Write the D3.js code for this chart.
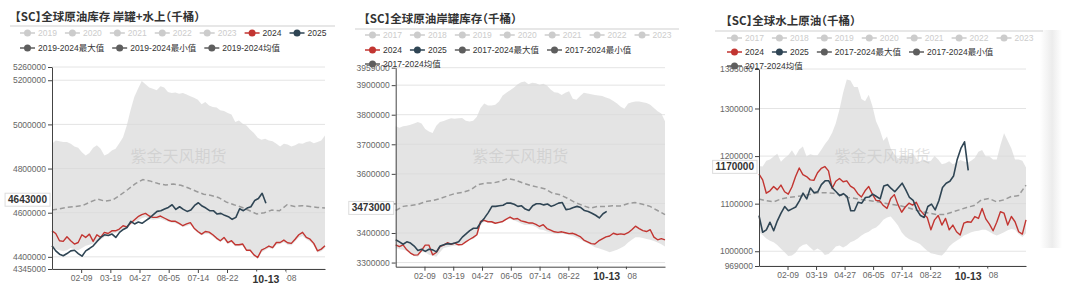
<!DOCTYPE html>
<html>
<head>
<meta charset="utf-8">
<script src="https://cdnjs.cloudflare.com/ajax/libs/d3/7.8.5/d3.min.js"></script>
<style>
body { margin: 0; background: #fff; }
svg { display: block; }
text { font-family: "Liberation Sans", "Noto Sans CJK SC", sans-serif; }
.title { font-family: "Noto Sans CJK SC", sans-serif; font-weight: bold; font-size: 11.5px; fill: #333; font-feature-settings: "halt"; }
</style>
</head>
<body>
<svg id="chart" width="1065" height="289"></svg>
<script>

// DATA (values every ~5 days over the year, 2025 up to 10-13)

var titles = ["【SC】全球原油库存 岸罐+水上（千桶）", "【SC】全球原油岸罐库存（千桶）", "【SC】全球水上原油（千桶）"];

var legend1 = [["2019","2020","2021","2022","2023","2024","2025"], ["2019-2024最大值","2019-2024最小值","2019-2024均值"]];
var legend23 = [["2017","2018","2019","2020","2021","2022","2023"], ["2024","2025","2017-2024最大值","2017-2024最小值"], ["2017-2024均值"]];

var xTickDates = ["02-09","03-19","04-27","06-05","07-14","08-22","09-30","11-08"];
var hiddenTickLabels = ["09-30"];
var pointerDate = "10-13";
var pointerValues = [4643000, 3473000, 1170000];
var watermark = "紫金天风期货";

var p1_domain = [4345000, 5260000];
var p1_yticks = [4345000, 4400000, 4600000, 4800000, 5000000, 5200000, 5260000];
var p1_max = [4912000,4927000,4924000,4920000,4920000,4912000,4900000,4894000,4874000,4859000,
  4870000,4894000,4905000,4890000,4859000,4867000,4882000,4890000,4915000,4942000,
  4995000,5064000,5124000,5162000,5197000,5182000,5167000,5162000,5155000,5173000,
  5167000,5147000,5142000,5145000,5139000,5142000,5136000,5127000,5121000,5112000,
  5091000,5101000,5086000,5079000,5076000,5064000,5061000,5052000,5045000,5011000,
  5018000,5003000,4995000,4976000,4961000,4939000,4930000,4935000,4927000,4924000,
  4912000,4900000,4912000,4909000,4900000,4905000,4915000,4912000,4920000,4924000,
  4915000,4920000,4927000,4950000];
var p1_min = [4440000,4435000,4430000,4425000,4430000,4440000,4435000,4430000,4440000,4450000,
  4455000,4460000,4470000,4478000,4490000,4495000,4505000,4508000,4515000,4528000,
  4530000,4545000,4558000,4565000,4575000,4580000,4572000,4568000,4570000,4573000,
  4566000,4560000,4555000,4552000,4545000,4535000,4540000,4545000,4525000,4508000,
  4498000,4505000,4503000,4492000,4478000,4468000,4478000,4458000,4465000,4448000,
  4448000,4450000,4425000,4425000,4404000,4390000,4420000,4430000,4440000,4435000,
  4455000,4458000,4466000,4455000,4452000,4470000,4488000,4495000,4480000,4470000,
  4452000,4420000,4425000,4440000];
var p1_avg = [4612000,4618000,4624000,4628000,4632000,4648000,4662000,4652000,4658000,4680000,
  4705000,4732000,4750000,4743000,4732000,4726000,4730000,4724000,4712000,4697000,
  4684000,4678000,4668000,4648000,4636000,4625000,4610000,4594000,4600000,4612000,
  4609000,4636000,4628000,4632000,4628000,4624000,4621000];
var p1_2024 = [4518000,4506000,4473000,4470000,4491000,4473000,4458000,4465000,4500000,4488000,
  4503000,4470000,4500000,4488000,4511000,4506000,4518000,4518000,4526000,4541000,
  4536000,4552000,4567000,4582000,4591000,4597000,4585000,4579000,4579000,4585000,
  4576000,4567000,4561000,4561000,4552000,4541000,4549000,4555000,4530000,4515000,
  4503000,4515000,4512000,4500000,4485000,4473000,4488000,4465000,4473000,4455000,
  4455000,4458000,4430000,4430000,4409000,4397000,4430000,4439000,4449000,4442000,
  4465000,4465000,4476000,4464000,4461000,4480000,4500000,4511000,4488000,4480000,
  4461000,4427000,4435000,4450000];
var p1_2025 = [4450000,4427000,4412000,4405000,4415000,4427000,4430000,4415000,4403000,4427000,
  4438000,4450000,4470000,4488000,4500000,4497000,4503000,4488000,4511000,4524000,
  4533000,4561000,4549000,4558000,4552000,4564000,4576000,4591000,4606000,4609000,
  4617000,4624000,4636000,4615000,4627000,4615000,4606000,4612000,4633000,4645000,
  4630000,4621000,4609000,4609000,4594000,4597000,4588000,4582000,4570000,4579000,
  4618000,4609000,4621000,4627000,4655000,4664000,4688000,4643000];

var p2_domain = [3286000, 3959000];
var p2_yticks = [3300000, 3400000, 3500000, 3600000, 3700000, 3800000, 3900000, 3959000];
var p2_max = [3761000,3756000,3761000,3763000,3766000,3770000,3775000,3770000,3752000,3743000,
  3738000,3763000,3775000,3779000,3784000,3788000,3786000,3788000,3789000,3780000,
  3777000,3780000,3793000,3823000,3838000,3831000,3831000,3834000,3845000,3865000,
  3874000,3883000,3891000,3902000,3910000,3912000,3903000,3908000,3906000,3901000,
  3905000,3899000,3885000,3876000,3874000,3867000,3874000,3879000,3854000,3851000,
  3863000,3874000,3872000,3869000,3867000,3865000,3863000,3858000,3854000,3846000,
  3838000,3827000,3820000,3838000,3842000,3845000,3845000,3842000,3840000,3834000,
  3823000,3812000,3804000,3778000];
var p2_min = [3349000,3345000,3343000,3340000,3330000,3322000,3320000,3335000,3335000,3326000,
  3323000,3320000,3335000,3349000,3352000,3355000,3357000,3358000,3360000,3368000,
  3377000,3380000,3390000,3426000,3439000,3436000,3434000,3430000,3432000,3436000,
  3445000,3447000,3443000,3438000,3432000,3427000,3428000,3425000,3420000,3412000,
  3410000,3405000,3402000,3398000,3396000,3399000,3397000,3393000,3390000,3384000,
  3378000,3371000,3365000,3359000,3352000,3348000,3344000,3340000,3335000,3339000,
  3343000,3349000,3356000,3368000,3377000,3386000,3386000,3383000,3380000,3377000,
  3373000,3368000,3362000,3354000];
var p2_avg = [3476000,3490000,3493000,3497000,3506000,3510000,3517000,3526000,3534000,3538000,
  3546000,3563000,3569000,3569000,3575000,3584000,3579000,3569000,3561000,3555000,
  3549000,3534000,3529000,3517000,3503000,3493000,3484000,3490000,3490000,3492000,
  3491000,3499000,3503000,3497000,3490000,3476000,3462000];
var p2_2024 = [3360000,3354000,3360000,3343000,3332000,3325000,3326000,3341000,3359000,3359000,
  3326000,3334000,3354000,3359000,3367000,3362000,3366000,3360000,3361000,3370000,
  3378000,3385000,3394000,3439000,3443000,3438000,3438000,3433000,3436000,3439000,
  3447000,3454000,3447000,3449000,3441000,3438000,3434000,3434000,3429000,3422000,
  3428000,3415000,3410000,3404000,3402000,3404000,3401000,3398000,3399000,3394000,
  3388000,3376000,3370000,3364000,3363000,3373000,3380000,3387000,3390000,3399000,
  3395000,3397000,3395000,3401000,3411000,3423000,3415000,3408000,3405000,3411000,
  3386000,3377000,3381000,3377000];
var p2_2025 = [3377000,3370000,3362000,3370000,3366000,3356000,3341000,3345000,3338000,3345000,
  3343000,3336000,3356000,3360000,3364000,3363000,3366000,3370000,3386000,3397000,
  3408000,3416000,3416000,3436000,3451000,3469000,3490000,3490000,3492000,3494000,
  3501000,3501000,3497000,3490000,3492000,3481000,3476000,3492000,3499000,3499000,
  3495000,3498000,3490000,3495000,3501000,3503000,3479000,3481000,3486000,3490000,
  3486000,3476000,3473000,3467000,3460000,3451000,3465000,3473000];

var p3_domain = [969000, 1383000];
var p3_yticks = [969000, 1000000, 1100000, 1200000, 1300000, 1383000];
var p3_max = [1179000,1178000,1190000,1193000,1199000,1205000,1188000,1196000,1202000,1212000,
  1200000,1214000,1220000,1199000,1204000,1202000,1202000,1213000,1225000,1235000,
  1249000,1269000,1298000,1333000,1361000,1359000,1345000,1345000,1320000,1315000,
  1329000,1305000,1273000,1256000,1232000,1241000,1216000,1204000,1195000,1202000,
  1200000,1199000,1206000,1195000,1186000,1193000,1189000,1190000,1200000,1193000,
  1183000,1185000,1189000,1183000,1186000,1192000,1189000,1186000,1190000,1196000,
  1209000,1213000,1199000,1199000,1193000,1193000,1223000,1248000,1232000,1216000,
  1193000,1193000,1190000,1176000];
var p3_min = [1040000,1034000,1027000,1022000,1019000,1013000,1005000,998000,990000,991000,
  997000,1008000,1013000,1015000,1008000,1001000,1006000,1001000,992000,994000,
  1001000,1010000,1012000,1008000,1012000,1019000,1022000,1027000,1033000,1038000,
  1041000,1047000,1050000,1057000,1066000,1071000,1073000,1064000,1054000,1040000,
  1031000,1026000,1022000,1019000,1015000,1008000,1001000,996000,994000,992000,
  991000,999000,1010000,1017000,1022000,1027000,1033000,1036000,1040000,1042000,
  1043000,1045000,1045000,1041000,1036000,1033000,1036000,1040000,1044000,1047000,
  1045000,1036000,1030000,1038000];
var p3_avg = [1110000,1106000,1104000,1110000,1113000,1115000,1117000,1120000,1123000,1123000,
  1122000,1118000,1113000,1111000,1108000,1106000,1104000,1101000,1098000,1096000,
  1092000,1087000,1083000,1080000,1077000,1077000,1082000,1087000,1092000,1096000,
  1108000,1111000,1104000,1108000,1115000,1117000,1139000];
var p3_2024 = [1162000,1150000,1122000,1127000,1136000,1129000,1139000,1125000,1120000,1135000,
  1157000,1175000,1161000,1157000,1150000,1149000,1165000,1174000,1178000,1169000,
  1132000,1147000,1153000,1146000,1148000,1137000,1132000,1121000,1114000,1127000,
  1136000,1120000,1107000,1106000,1096000,1090000,1111000,1119000,1098000,1082000,
  1093000,1101000,1097000,1103000,1087000,1078000,1071000,1045000,1066000,1075000,
  1055000,1069000,1045000,1055000,1041000,1034000,1059000,1062000,1061000,1073000,
  1069000,1090000,1068000,1057000,1043000,1061000,1083000,1080000,1055000,1073000,
  1062000,1041000,1036000,1066000];
var p3_2025 = [1075000,1040000,1045000,1061000,1043000,1064000,1080000,1094000,1085000,1089000,
  1093000,1106000,1122000,1110000,1133000,1123000,1125000,1140000,1148000,1148000,
  1133000,1125000,1117000,1121000,1115000,1085000,1085000,1103000,1101000,1113000,
  1114000,1120000,1115000,1110000,1137000,1140000,1132000,1125000,1134000,1143000,
  1129000,1113000,1107000,1087000,1075000,1071000,1094000,1099000,1087000,1106000,
  1134000,1143000,1147000,1158000,1193000,1216000,1230000,1170000];

// LAYOUT

var layout = [
  {left: 52, right: 325, top: 67, bottom: 269, titleX: 15, titleY: 21, sepY: 26, sepX0: 10, sepX1: 335, legX: 20, legY: [33, 48]},
  {left: 395.7, right: 665, top: 67.7, bottom: 266.7, titleX: 364, titleY: 23, sepY: 29, sepX0: 355, sepX1: 679, legX: 365, legY: [35, 50, 64]},
  {left: 759, right: 1026, top: 69, bottom: 266, titleX: 726, titleY: 25, sepY: 31, sepX0: 715, sepX1: 1043, legX: 727, legY: [38, 52, 66]}
];

var panelData = [
  {domain: p1_domain, yticks: p1_yticks, max: p1_max, min: p1_min, avg: p1_avg, s2024: p1_2024, s2025: p1_2025, legend: legend1},
  {domain: p2_domain, yticks: p2_yticks, max: p2_max, min: p2_min, avg: p2_avg, s2024: p2_2024, s2025: p2_2025, legend: legend23},
  {domain: p3_domain, yticks: p3_yticks, max: p3_max, min: p3_min, avg: p3_avg, s2024: p3_2024, s2025: p3_2025, legend: legend23}
];

var RED = "#c23531", DARK = "#2f4554", GREY = "#5e5e5e", OFF = "#cccccc";

// FUNCTIONS

function doy(s) {
  var p = s.split("-");
  return d3.timeDay.count(new Date(2024, 0, 1), new Date(2024, +p[0] - 1, +p[1]));
}

// evenly spaced days for a series that runs from 01-01 to `end`
function seriesDays(n, end) {
  return d3.range(n).map(function(i) { return i * end / (n - 1); });
}

function legendColor(name) {
  if (name == "2024") return RED;
  if (name == "2025") return DARK;
  if (name.indexOf("-") > 0) return GREY;
  return OFF;
}

var svg = d3.select("#chart");
var defs = svg.append("defs");

var grad = defs.append("linearGradient").attr("id", "shadow").attr("x1", 0).attr("x2", 1).attr("y1", 0).attr("y2", 0);
grad.append("stop").attr("offset", "0%").attr("stop-color", "#fff");
grad.append("stop").attr("offset", "55%").attr("stop-color", "#ececec");
grad.append("stop").attr("offset", "100%").attr("stop-color", "#fff");

// shadow strip at the right edge of the third card
svg.append("rect")
  .attr("x", 1040).attr("y", 30).attr("width", 22).attr("height", 218)
  .attr("fill", "url(#shadow)");

var yearEnd = 365;
var endDay2025 = doy(pointerDate);

function drawPanel(k) {
  var c = layout[k];
  var d = panelData[k];
  var g = svg.append("g");

  var x = d3.scaleLinear().domain([0, yearEnd]).range([c.left, c.right]);
  var y = d3.scaleLinear().domain(d.domain).range([c.bottom, c.top]);

  // grid
  g.selectAll(".grid")
    .data(d.yticks)
    .enter()
    .append("line")
    .attr("x1", c.left).attr("x2", c.right)
    .attr("y1", function(v) { return y(v); })
    .attr("y2", function(v) { return y(v); })
    .attr("stroke", "#e4e4e4")
    .attr("stroke-width", 1);

  // max / min band
  var fullDays = seriesDays(d.max.length, yearEnd);
  var band = d3.area()
    .x(function(v, i) { return x(fullDays[i]); })
    .y0(function(v, i) { return y(d.min[i]); })
    .y1(function(v) { return y(v); });

  g.append("path")
    .datum(d.max)
    .attr("d", band)
    .attr("fill", "#d9d9d9")
    .attr("fill-opacity", 0.7);

  // watermark
  g.append("text")
    .attr("x", (c.left + c.right) / 2 - 10)
    .attr("y", 155)
    .attr("text-anchor", "middle")
    .attr("dominant-baseline", "central")
    .style("font-family", "'Noto Sans CJK SC', sans-serif")
    .style("font-size", "16px")
    .attr("fill", "#bdbdbd")
    .attr("fill-opacity", 0.45)
    .text(watermark);

  function lineFor(values, end) {
    var days = seriesDays(values.length, end);
    return d3.line()
      .x(function(v, i) { return x(days[i]); })
      .y(function(v) { return y(v); })(values);
  }

  g.append("path")
    .attr("d", lineFor(d.avg, yearEnd))
    .attr("fill", "none")
    .attr("stroke", "#9a9a9a")
    .attr("stroke-width", 1.5)
    .attr("stroke-dasharray", "5,3");

  g.append("path")
    .attr("d", lineFor(d.s2024, yearEnd))
    .attr("fill", "none")
    .attr("stroke", RED)
    .attr("stroke-width", 1.4)
    .attr("stroke-linejoin", "round");

  g.append("path")
    .attr("d", lineFor(d.s2025, endDay2025))
    .attr("fill", "none")
    .attr("stroke", DARK)
    .attr("stroke-width", 1.6)
    .attr("stroke-linejoin", "round");

  // axes
  var yAxis = d3.axisLeft(y)
    .tickValues(d.yticks)
    .tickSize(4)
    .tickSizeOuter(0)
    .tickPadding(2)
    .tickFormat(d3.format("d"));

  var xAxis = d3.axisBottom(x)
    .tickValues(xTickDates.map(doy))
    .tickSize(4)
    .tickSizeOuter(0)
    .tickPadding(2)
    .tickFormat(function(v, i) {
      return hiddenTickLabels.indexOf(xTickDates[i]) >= 0 ? "" : xTickDates[i];
    });

  var ya = g.append("g").attr("transform", "translate(" + c.left + ",0)").call(yAxis);
  var xa = g.append("g").attr("transform", "translate(0," + c.bottom + ")").call(xAxis);

  [ya, xa].forEach(function(a) {
    a.select(".domain").attr("stroke", "#444");
    a.selectAll(".tick line").attr("stroke", "#444");
    a.selectAll("text")
      .style("font-family", "'Liberation Sans', sans-serif")
      .style("font-size", "8.5px")
      .attr("fill", "#666");
  });

  // pointer labels
  var pv = pointerValues[k];
  var py = y(pv) - 3.5;
  var yl = g.append("g");
  var ylt = yl.append("text")
    .attr("x", c.left - 5)
    .attr("y", py)
    .attr("text-anchor", "end")
    .attr("dominant-baseline", "central")
    .style("font-size", "10px")
    .style("font-weight", "bold")
    .attr("fill", "#333")
    .text(d3.format("d")(pv));
  var w = ylt.node().getComputedTextLength();
  yl.insert("rect", "text")
    .attr("x", c.left - 8 - w).attr("y", py - 6.5)
    .attr("width", w + 6).attr("height", 13)
    .attr("fill", "#fff")
    .attr("stroke", "#dcdcdc");

  var px = x(endDay2025);
  var xl = g.append("g");
  var xlt = xl.append("text")
    .attr("x", px)
    .attr("y", c.bottom + 9.5)
    .attr("text-anchor", "middle")
    .attr("dominant-baseline", "central")
    .style("font-size", "10.5px")
    .style("font-weight", "bold")
    .attr("fill", "#333")
    .text(pointerDate);
  var w2 = xlt.node().getComputedTextLength();
  xl.insert("rect", "text")
    .attr("x", px - w2 / 2 - 6).attr("y", c.bottom + 2.5)
    .attr("width", w2 + 13).attr("height", 14)
    .attr("fill", "#fff");

  // title and separator
  g.append("text")
    .attr("class", "title")
    .attr("x", c.titleX)
    .attr("y", c.titleY)
    .text(titles[k]);

  g.append("line")
    .attr("x1", c.sepX0).attr("x2", c.sepX1)
    .attr("y1", c.sepY).attr("y2", c.sepY)
    .attr("stroke", "#cfcfcf")
    .attr("stroke-width", 1);

  // legend
  d.legend.forEach(function(row, r) {
    var lx = c.legX;
    var ly = c.legY[r];
    row.forEach(function(name) {
      var col = legendColor(name);
      var it = g.append("g");
      it.append("line")
        .attr("x1", lx).attr("x2", lx + 15)
        .attr("y1", ly).attr("y2", ly)
        .attr("stroke", col).attr("stroke-width", 1.5);
      it.append("circle")
        .attr("cx", lx + 7.5).attr("cy", ly).attr("r", 3.5)
        .attr("fill", col);
      var t = it.append("text")
        .attr("x", lx + 18).attr("y", ly)
        .attr("dominant-baseline", "central")
        .style("font-size", "8.5px")
        .attr("fill", col == OFF ? OFF : "#333")
        .text(name);
      lx = lx + 18 + t.node().getComputedTextLength() + 8;
    });
  });
}

for (var k = 0; k < 3; k++) {
  drawPanel(k);
}

</script>
</body>
</html>
